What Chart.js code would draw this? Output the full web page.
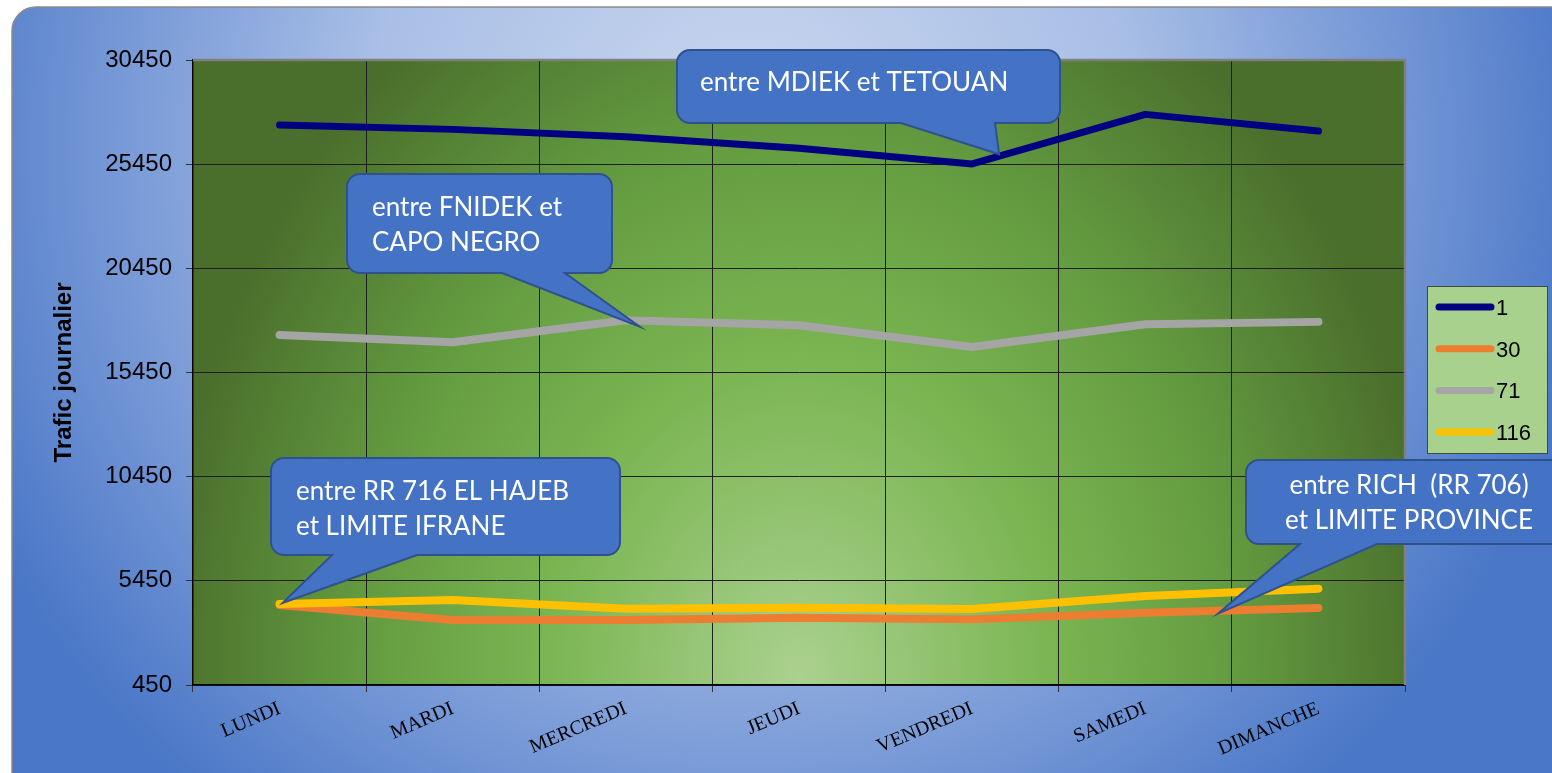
<!DOCTYPE html>
<html>
<head>
<meta charset="utf-8">
<script src="https://cdn.jsdelivr.net/npm/chart.js@4.4.0/dist/chart.umd.min.js"></script>
<style>
body { margin: 0; background: #fff; }
</style>
</head>
<body>
<canvas id="chart" width="1552" height="773"></canvas>
<script>
// data
const days = ['LUNDI', 'MARDI', 'MERCREDI', 'JEUDI', 'VENDREDI', 'SAMEDI', 'DIMANCHE'];
const route1 = [27330, 27120, 26770, 26210, 25460, 27840, 27040];
const route30 = [4290, 3570, 3570, 3680, 3600, 3920, 4150];
const route71 = [17250, 16900, 17960, 17720, 16670, 17770, 17880];
const route116 = [4340, 4530, 4110, 4160, 4100, 4720, 5070];
const yMin = 450;
const yMax = 30450;
const yStep = 5000;
const yTitle = 'Trafic journalier';

// callout boxes: box in pixels, tip anchored on a dataset line (index + fraction)
const callouts = [
  { lines: ['entre MDIEK et TETOUAN'], box: [677, 50, 383, 73], base: [901, 995], ds: 0, at: 4.156, dx: 0, dy: -2, align: 'left', tx: 700, ty: 83 },
  { lines: ['entre FNIDEK et', 'CAPO NEGRO'], box: [347, 174, 265, 99], base: [502, 565], ds: 2, at: 2.08, dx: 0, dy: 6, align: 'left', tx: 372, ty: 208 },
  { lines: ['entre RR 716 EL HAJEB', 'et LIMITE IFRANE'], box: [271, 458, 349, 97], base: [332, 417], ds: 3, at: 0, dx: 3, dy: -1, align: 'left', tx: 296, ty: 492 },
  { lines: ['entre RICH  (RR 706)', 'et LIMITE PROVINCE'], box: [1246, 460, 320, 84], base: [1300, 1377], ds: 1, at: 5.42, dx: 0, dy: 3, align: 'center', tx: 1409, ty: 486 }
];

function roundRectPath(ctx, x, y, w, h, r) {
  ctx.beginPath();
  ctx.moveTo(x + r, y);
  ctx.lineTo(x + w - r, y);
  ctx.arcTo(x + w, y, x + w, y + r, r);
  ctx.lineTo(x + w, y + h - r);
  ctx.arcTo(x + w, y + h, x + w - r, y + h, r);
  ctx.lineTo(x + r, y + h);
  ctx.arcTo(x, y + h, x, y + h - r, r);
  ctx.lineTo(x, y + r);
  ctx.arcTo(x, y, x + r, y, r);
  ctx.closePath();
}

function calloutPath(ctx, x, y, w, h, r, b1, b2, px, py) {
  ctx.beginPath();
  ctx.moveTo(x + r, y);
  ctx.lineTo(x + w - r, y);
  ctx.arcTo(x + w, y, x + w, y + r, r);
  ctx.lineTo(x + w, y + h - r);
  ctx.arcTo(x + w, y + h, x + w - r, y + h, r);
  ctx.lineTo(b2, y + h);
  ctx.lineTo(px, py);
  ctx.lineTo(b1, y + h);
  ctx.lineTo(x + r, y + h);
  ctx.arcTo(x, y + h, x, y + h - r, r);
  ctx.lineTo(x, y + r);
  ctx.arcTo(x, y, x + r, y, r);
  ctx.closePath();
}

const backgrounds = {
  id: 'backgrounds',
  beforeDraw(chart) {
    const ctx = chart.ctx;
    const a = chart.chartArea;
    ctx.save();
    ctx.fillStyle = '#fff';
    ctx.fillRect(0, 0, chart.width, chart.height);
    // blue frame
    const g = ctx.createRadialGradient(750, 150, 0, 750, 150, 850);
    g.addColorStop(0, '#cbd8ef');
    g.addColorStop(0.45, '#a9bfe6');
    g.addColorStop(0.75, '#7698d6');
    g.addColorStop(1, '#4a77c7');
    roundRectPath(ctx, 12, 7, 1570, 790, 24);
    ctx.fillStyle = g;
    ctx.fill();
    ctx.lineWidth = 1.5;
    ctx.strokeStyle = '#8a8a8a';
    ctx.stroke();
    // green plot area
    const cx = (a.left + a.right) / 2;
    const cy = a.bottom - 10;
    const s = 800 / 640;
    ctx.save();
    ctx.translate(cx, cy);
    ctx.scale(1, s);
    const pg = ctx.createRadialGradient(0, 0, 0, 0, 0, 640);
    pg.addColorStop(0, '#aad18f');
    pg.addColorStop(0.4, '#7ab551');
    pg.addColorStop(0.7, '#62993f');
    pg.addColorStop(1, '#4a6e2c');
    ctx.fillStyle = pg;
    ctx.fillRect(a.left - cx, (a.top - cy) / s, a.right - a.left, (a.bottom - a.top) / s);
    ctx.restore();
    ctx.restore();
  },
  beforeDatasetsDraw(chart) {
    const ctx = chart.ctx;
    const a = chart.chartArea;
    ctx.save();
    ctx.strokeStyle = '#808080';
    ctx.lineWidth = 2.5;
    ctx.beginPath();
    ctx.moveTo(a.left, a.top);
    ctx.lineTo(a.right, a.top);
    ctx.lineTo(a.right, a.bottom);
    ctx.stroke();
    ctx.restore();
  }
};

const notes = {
  id: 'notes',
  afterDatasetsDraw(chart) {
    const ctx = chart.ctx;
    ctx.save();
    callouts.forEach(c => {
      const meta = chart.getDatasetMeta(c.ds);
      const i = Math.floor(c.at);
      const t = c.at - i;
      const p0 = meta.data[i];
      const p1 = meta.data[Math.min(i + 1, meta.data.length - 1)];
      const px = p0.x + t * (p1.x - p0.x) + c.dx;
      const py = p0.y + t * (p1.y - p0.y) + c.dy;
      const [x, y, w, h] = c.box;
      calloutPath(ctx, x, y, w, h, 13, c.base[0], c.base[1], px, py);
      ctx.fillStyle = '#4472c4';
      ctx.fill();
      ctx.lineWidth = 2;
      ctx.strokeStyle = '#2f528f';
      ctx.stroke();
      ctx.fillStyle = '#fff';
      ctx.font = '26px Lato';
      ctx.textAlign = c.align;
      ctx.textBaseline = 'middle';
      c.lines.forEach((l, k) => ctx.fillText(l, c.tx, c.ty + k * 35));
    });
    // legend
    ctx.fillStyle = '#a9d18e';
    ctx.fillRect(1427, 286, 120, 167);
    ctx.lineWidth = 1;
    ctx.strokeStyle = '#3f4a3a';
    ctx.strokeRect(1427.5, 286.5, 120, 167);
    ctx.font = '22px "Liberation Sans"';
    ctx.textAlign = 'left';
    ctx.textBaseline = 'middle';
    chart.data.datasets.forEach((d, k) => {
      const ly = 307 + k * 41.7;
      ctx.strokeStyle = d.borderColor;
      ctx.lineWidth = 7;
      ctx.lineCap = 'round';
      ctx.beginPath();
      ctx.moveTo(1439, ly);
      ctx.lineTo(1491, ly);
      ctx.stroke();
      ctx.fillStyle = '#000';
      ctx.fillText(d.label, 1496, ly + 2);
    });
    ctx.restore();
  }
};

const ctx = document.getElementById('chart').getContext('2d');

const myChart = new Chart(ctx, {
  type: 'line',
  data: {
    labels: days,
    datasets: [
      { label: '1', data: route1, borderColor: '#000080', borderWidth: 7, order: 1 },
      { label: '30', data: route30, borderColor: '#ed7d31', borderWidth: 8, order: 3 },
      { label: '71', data: route71, borderColor: '#a5a5a5', borderWidth: 8, order: 2 },
      { label: '116', data: route116, borderColor: '#ffc000', borderWidth: 8, order: 0 }
    ]
  },
  options: {
    responsive: false,
    animation: false,
    layout: { padding: { top: 60, right: 147, left: 0, bottom: 0 } },
    elements: {
      point: { radius: 0, hoverRadius: 0 },
      line: { tension: 0, borderCapStyle: 'round', borderJoinStyle: 'round', fill: false }
    },
    plugins: {
      legend: { display: false },
      tooltip: { enabled: false }
    },
    scales: {
      x: {
        offset: true,
        grid: { offset: true, color: '#1e1e1e', lineWidth: 1, tickLength: 7, tickColor: '#333' },
        border: { color: '#000', width: 1.5 },
        ticks: {
          color: '#000',
          font: { family: '"Liberation Serif"', size: 20 },
          maxRotation: 23,
          minRotation: 23,
          padding: 5
        },
        afterFit(scale) { scale.height = 88; }
      },
      y: {
        min: yMin,
        max: yMax,
        grid: { color: '#1e1e1e', lineWidth: 1, tickLength: 7, tickColor: '#333' },
        border: { color: '#000', width: 1.5 },
        ticks: {
          stepSize: yStep,
          color: '#000',
          padding: 14,
          font: { family: '"Liberation Sans"', size: 24 },
          callback: v => String(v)
        },
        title: {
          display: true,
          text: yTitle,
          color: '#000',
          font: { family: '"Liberation Sans"', size: 24, weight: 'bold' },
          padding: { top: 50, bottom: 0 }
        },
        afterFit(scale) { scale.width = 193; }
      }
    }
  },
  plugins: [backgrounds, notes]
});
</script>
</body>
</html>
